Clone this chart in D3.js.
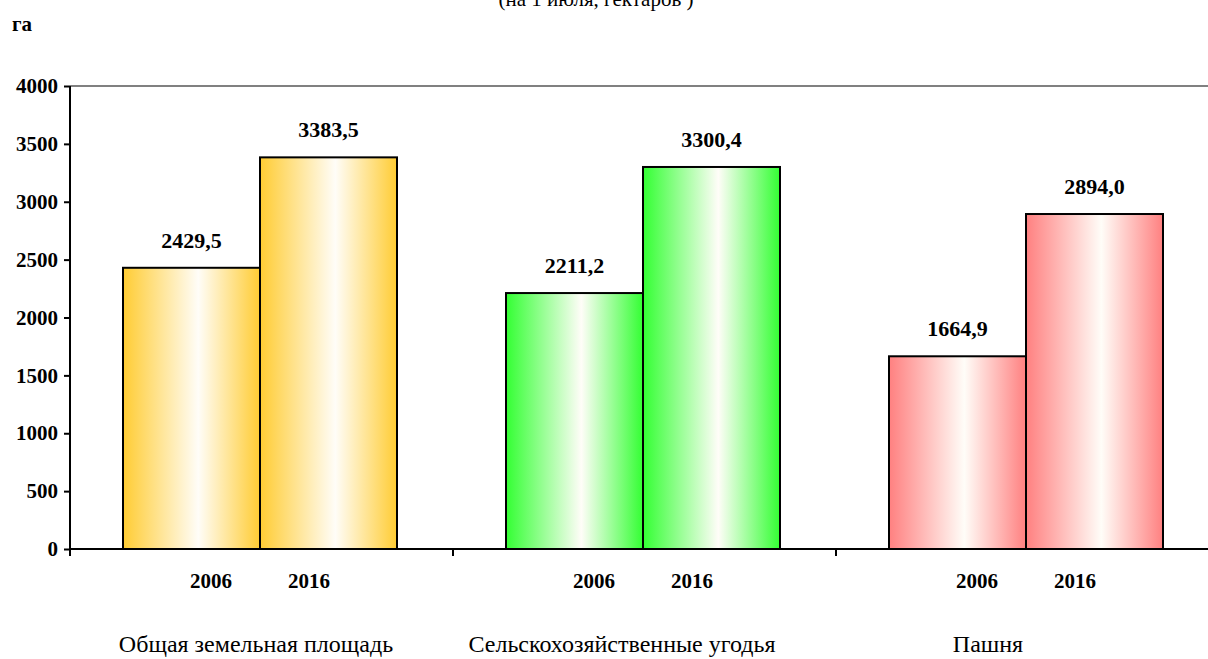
<!DOCTYPE html>
<html>
<head>
<meta charset="utf-8">
<script src="https://cdn.jsdelivr.net/npm/d3@7"></script>
<style>
body { margin: 0; background: #fff; }
svg text { font-family: "Liberation Serif", "Times New Roman", "DejaVu Serif", serif !important; }
</style>
</head>
<body>
<script>
var categories = ["Общая земельная площадь", "Сельскохозяйственные угодья", "Пашня"];
var years = ["2006", "2016"];
var values2006 = [2429.5, 2211.2, 1664.9];
var values2016 = [3383.5, 3300.4, 2894.0];
var yTicks = [0, 500, 1000, 1500, 2000, 2500, 3000, 3500, 4000];
var colors = ["#ffcc33", "#33ff33", "#ff8080"];

function init() {
    var w = 1208, h = 659;
    var left = 70, top = 86, bottom = 549;

    var svg = d3.select("body").append("svg")
        .attr("width", w).attr("height", h)
        .attr("font-family", "Liberation Serif");

    var defs = svg.append("defs");
    colors.forEach(function(c, i) {
        var g = defs.append("linearGradient").attr("id", "grad" + i)
            .attr("x1", "0%").attr("x2", "100%").attr("y1", "0%").attr("y2", "0%");
        g.append("stop").attr("offset", "0%").attr("stop-color", c);
        g.append("stop").attr("offset", "55%").attr("stop-color", "#fffdf8");
        g.append("stop").attr("offset", "100%").attr("stop-color", c);
    });

    var x = d3.scaleBand().domain(categories).range([left, left + 383 * 3]);
    var y = d3.scaleLinear().domain([0, 4000]).range([bottom, top]);

    // title, mostly cut off at the top edge like in the original
    svg.append("text").attr("x", 596).attr("y", 6).attr("text-anchor", "middle")
        .style("font-size", "21px").text("(на 1 июля, гектаров )");

    svg.append("text").attr("x", 12).attr("y", 31)
        .style("font-size", "21px").style("font-weight", "bold").text("га");

    // top border line
    svg.append("line").attr("x1", left).attr("x2", w).attr("y1", y(4000)).attr("y2", y(4000))
        .attr("stroke", "#808080").attr("stroke-width", 2);

    // bars
    var data = [];
    categories.forEach(function(c, i) {
        data.push({cat: c, yr: 0, v: values2006[i], ci: i});
        data.push({cat: c, yr: 1, v: values2016[i], ci: i});
    });
    var bw = 137, off = 53;
    svg.selectAll("rect.bar").data(data).enter().append("rect")
        .attr("class", "bar")
        .attr("x", function(d) { return x(d.cat) + off + d.yr * bw; })
        .attr("y", function(d) { return y(d.v); })
        .attr("width", bw)
        .attr("height", function(d) { return y(0) - y(d.v); })
        .attr("fill", function(d) { return "url(#grad" + d.ci + ")"; })
        .attr("stroke", "#000").attr("stroke-width", 2);

    // value labels
    svg.selectAll("text.val").data(data).enter().append("text")
        .attr("x", function(d) { return x(d.cat) + off + d.yr * bw + bw / 2; })
        .attr("y", function(d) { return y(d.v) - 20; })
        .attr("text-anchor", "middle")
        .style("font-size", "22px").style("font-weight", "bold")
        .text(function(d) { return d.v.toFixed(1).replace(".", ","); });

    // y axis
    var yAxis = d3.axisLeft(y).tickValues(yTicks).tickFormat(d3.format("d")).tickSize(6).tickPadding(6);
    var ya = svg.append("g").attr("transform", "translate(" + left + ",0)").call(yAxis);
    ya.attr("font-family", null);
    ya.select(".domain").attr("stroke", "#000").attr("stroke-width", 2).attr("d", "M0," + top + "V" + bottom);
    ya.selectAll(".tick line").attr("stroke", "#000").attr("stroke-width", 2);
    ya.selectAll(".tick text").style("font-size", "21px").style("font-weight", "bold").attr("fill", "#000");

    // x axis baseline and ticks
    svg.append("line").attr("x1", left).attr("x2", w).attr("y1", bottom).attr("y2", bottom)
        .attr("stroke", "#000").attr("stroke-width", 2);
    svg.selectAll("line.xt").data(categories).enter().append("line")
        .attr("x1", function(d) { return x(d); }).attr("x2", function(d) { return x(d); })
        .attr("y1", bottom).attr("y2", bottom + 7)
        .attr("stroke", "#000").attr("stroke-width", 2);

    // year labels
    var yearOff = [141, 239];
    categories.forEach(function(c) {
        years.forEach(function(yr, j) {
            svg.append("text").attr("x", x(c) + yearOff[j]).attr("y", 588)
                .attr("text-anchor", "middle")
                .style("font-size", "21px").style("font-weight", "bold").text(yr);
        });
    });

    // category names
    var nameX = [256, 622, 988];
    svg.selectAll("text.cat").data(categories).enter().append("text")
        .attr("x", function(d, i) { return nameX[i]; })
        .attr("y", 652)
        .attr("text-anchor", "middle")
        .style("font-size", "24px").text(function(d) { return d; });
}

window.onload = init;
</script>
</body>
</html>
